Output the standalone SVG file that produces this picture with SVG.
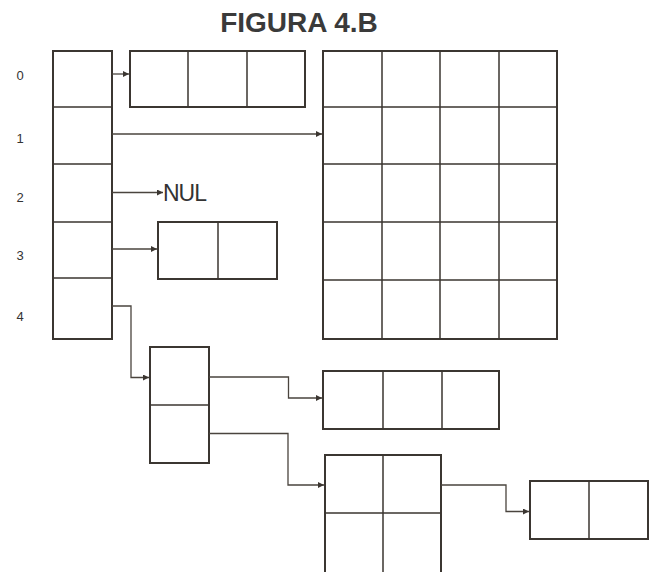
<svg xmlns="http://www.w3.org/2000/svg" width="655" height="572" viewBox="0 0 655 572">
<style>
.box{fill:none;stroke:#3b3631;stroke-width:2}
.ln{fill:none;stroke:#3b3631;stroke-width:1.5}
.c{fill:none;stroke:#4a443e;stroke-width:1.3}
.lbl{font-family:"Liberation Sans",Arial,sans-serif;font-size:13px;fill:#333}
.t{font-family:"Liberation Sans",Arial,sans-serif;font-weight:bold;font-size:28px;fill:#3a3a3a}
.nul{font-family:"Liberation Sans",Arial,sans-serif;font-size:23px;fill:#333;letter-spacing:-1px}
</style>
<defs>
<marker id="ar" viewBox="0 0 10 10" refX="10" refY="5" markerWidth="9" markerHeight="6" markerUnits="userSpaceOnUse" orient="auto">
<path d="M0,0 L10,5 L0,10 z" fill="#3b3631"/>
</marker>
</defs>
<rect width="655" height="572" fill="#fff"/>
<text class="t" x="299" y="32" text-anchor="middle">FIGURA 4.B</text>
<g id="labels">
<text class="lbl" x="20" y="80" text-anchor="middle">0</text>
<text class="lbl" x="20" y="143" text-anchor="middle">1</text>
<text class="lbl" x="20" y="202" text-anchor="middle">2</text>
<text class="lbl" x="20" y="260" text-anchor="middle">3</text>
<text class="lbl" x="20" y="321" text-anchor="middle">4</text>
</g>
<g id="index">
<rect class="box" x="53" y="51" width="59" height="288"/>
<path class="ln" d="M53,107 H112 M53,164 H112 M53,222 H112 M53,278 H112"/>
</g>
<g id="row0">
<rect class="box" x="130" y="51" width="175" height="56"/>
<path class="ln" d="M188,51 V107 M247,51 V107"/>
</g>
<g id="grid">
<rect class="box" x="323" y="51" width="234" height="288"/>
<path class="ln" d="M382,51 V339 M440,51 V339 M499,51 V339 M323,107 H557 M323,164 H557 M323,222 H557 M323,280 H557"/>
</g>
<g id="row3">
<rect class="box" x="158" y="222" width="119" height="57"/>
<path class="ln" d="M218,222 V279"/>
</g>
<g id="node4">
<rect class="box" x="150" y="347" width="59" height="116"/>
<path class="ln" d="M150,405 H209"/>
</g>
<g id="box3">
<rect class="box" x="323" y="371" width="176" height="58"/>
<path class="ln" d="M383,371 V429 M442,371 V429"/>
</g>
<g id="box22">
<rect class="box" x="325" y="455" width="116" height="125"/>
<path class="ln" d="M383,455 V580 M325,513 H441"/>
</g>
<g id="box2">
<rect class="box" x="530" y="481" width="118" height="58"/>
<path class="ln" d="M589,481 V539"/>
</g>
<text class="nul" x="163" y="201">NUL</text>
<g id="connectors">
<path class="c" d="M112,74 H129" marker-end="url(#ar)"/>
<path class="c" d="M112,134 H322" marker-end="url(#ar)"/>
<path class="c" d="M112,192.5 H163" marker-end="url(#ar)"/>
<path class="c" d="M112,249 H157" marker-end="url(#ar)"/>
<path class="c" d="M112,306 H131 V377.5 H149" marker-end="url(#ar)"/>
<path class="c" d="M209,377 H288.5 V398 H322" marker-end="url(#ar)"/>
<path class="c" d="M209,433.5 H288 V485 H324" marker-end="url(#ar)"/>
<path class="c" d="M441,485 H506 V511.5 H529" marker-end="url(#ar)"/>
</g>
</svg>
